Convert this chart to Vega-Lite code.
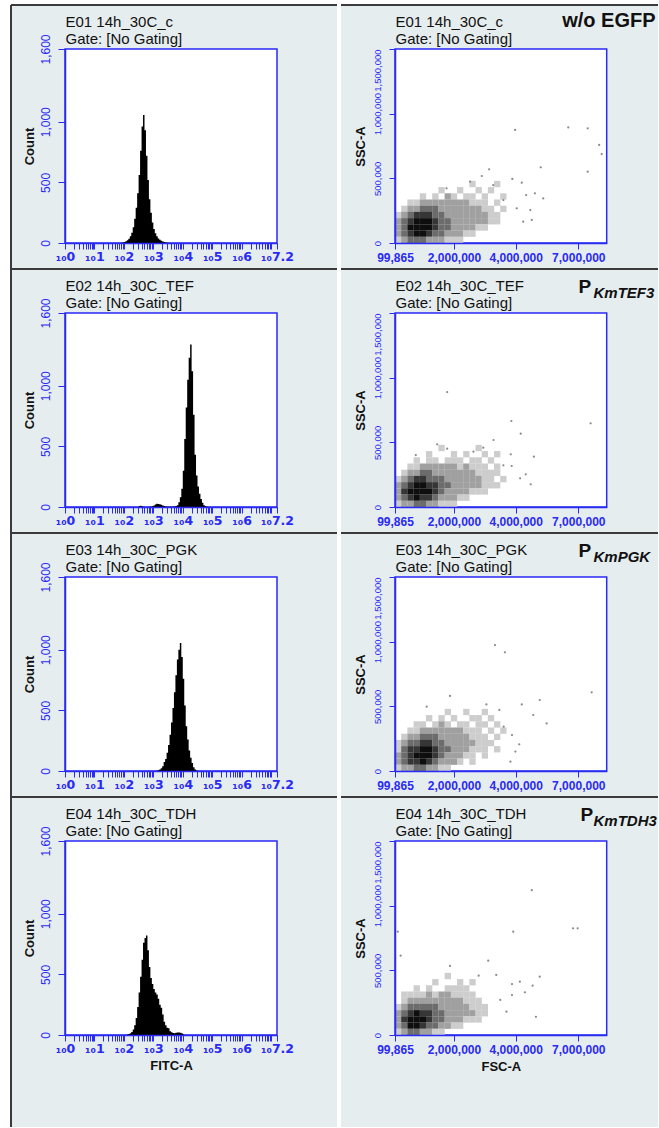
{
  "$schema": "https://vega.github.io/schema/vega-lite/v6.json",
  "background": "white",
  "padding": {"left": 10, "top": 4, "right": 0, "bottom": 0},
  "config": {
    "view": {"fill": "#e6edef", "stroke": null},
    "axis": {"grid": false, "domainColor": "#2a2af5", "tickColor": "#2a2af5", "labelColor": "#2a2af5", "titleColor": "#111111"}
  },
  "columns": 2,
  "spacing": {"row": 0, "column": 4},
  "bounds": "flush",
  "align": "each",
  "concat": [
    {
      "width": 326, "height": 264,
      "view": {"fill": "#e6edef", "stroke": "#3b3b3b", "strokeWidth": 2, "strokeDash": [326, 590, 264, 0]},
      "resolve": {"axis": {"x": "independent", "y": "independent"}},
      "layer": [
        {
          "data": {"values": [{}]},
          "mark": {"type": "rect", "fill": "white", "stroke": "#2a2af5", "strokeWidth": 1.5},
          "encoding": {
            "x": {"datum": 1, "type": "quantitative", "scale": {"type": "log", "domain": [1, 15848932], "range": [54, 266], "nice": false},
              "axis": {"orient": "top", "domain": false, "ticks": false, "labels": false, "title": ["E01 14h_30C_c", "Gate: [No Gating]"], "titleX": 54, "titleY": 9, "titleAlign": "left", "titleAnchor": "start", "titleBaseline": "top", "titleAngle": 0, "titleFont": "Liberation Sans", "titleFontSize": 15, "titleFontWeight": "normal", "titleLineHeight": 17.5}},
            "x2": {"datum": 15848932},
            "y": {"datum": 0, "type": "quantitative", "scale": {"domain": [0, 1600], "range": [238, 44], "nice": false, "zero": false}, "axis": null},
            "y2": {"datum": 1600}
          }
        },
        {
          "data": {"values": [
            {"fitc": 79.4, "count": 2}, {"fitc": 89.1, "count": 4}, {"fitc": 100, "count": 8}, {"fitc": 112.2, "count": 14},
            {"fitc": 125.9, "count": 22}, {"fitc": 141.3, "count": 35}, {"fitc": 158.5, "count": 55}, {"fitc": 177.8, "count": 85},
            {"fitc": 199.5, "count": 130}, {"fitc": 223.9, "count": 200}, {"fitc": 251.2, "count": 290}, {"fitc": 281.8, "count": 410},
            {"fitc": 316.2, "count": 560}, {"fitc": 354.8, "count": 760}, {"fitc": 398.1, "count": 960}, {"fitc": 446.7, "count": 1055},
            {"fitc": 501.2, "count": 930}, {"fitc": 562.3, "count": 720}, {"fitc": 631, "count": 520}, {"fitc": 707.9, "count": 360},
            {"fitc": 794.3, "count": 250}, {"fitc": 891.3, "count": 170}, {"fitc": 1000, "count": 115}, {"fitc": 1122, "count": 80},
            {"fitc": 1259, "count": 55}, {"fitc": 1413, "count": 38}, {"fitc": 1585, "count": 26}, {"fitc": 1778, "count": 18},
            {"fitc": 1995, "count": 12}, {"fitc": 2239, "count": 8}, {"fitc": 2512, "count": 5}, {"fitc": 2818, "count": 3},
            {"fitc": 3162, "count": 0}
          ]},
          "mark": {"type": "area", "interpolate": "step-after", "color": "#000000"},
          "encoding": {
            "x": {"field": "fitc", "type": "quantitative", "scale": {"type": "log", "domain": [1, 15848932], "range": [54, 266], "nice": false},
              "axis": {"orient": "bottom", "offset": -26, "zindex": 1, "values": [1,2,3,4,5,6,7,8,9,10,20,30,40,50,60,70,80,90,100,200,300,400,500,600,700,800,900,1000,2000,3000,4000,5000,6000,7000,8000,9000,10000,20000,30000,40000,50000,60000,70000,80000,90000,100000,200000,300000,400000,500000,600000,700000,800000,900000,1000000,2000000,3000000,4000000,5000000,6000000,7000000,8000000,9000000,10000000,15848932],
                "labelExpr": "datum.value > 15000000 ? '₁₀7.2' : datum.value > 5000000 ? '' : abs(log(datum.value) / LN10 - round(log(datum.value) / LN10)) < 0.001 ? '₁₀' + round(log(datum.value) / LN10) : ''",
                "labelFont": "DejaVu Sans", "labelFontSize": 12.5, "labelFontWeight": "bold", "labelPadding": 1, "labelOverlap": false, "labelBound": false, "labelFlush": false, "tickSize": 6, "domainWidth": 1.5, "title": null}},
            "y": {"field": "count", "type": "quantitative", "scale": {"domain": [0, 1600], "range": [238, 44], "nice": false, "zero": false},
              "axis": {"orient": "left", "offset": -54, "zindex": 1, "values": [0, 500, 1000, 1600], "format": ",.0f", "labelAngle": -90, "labelAlign": "center", "labelBaseline": "bottom", "labelFont": "Liberation Sans", "labelFontSize": 12, "labelPadding": 6, "labelOverlap": false, "labelBound": false, "labelFlush": false, "tickSize": 7, "domainWidth": 1.5, "title": "Count", "titleFont": "Liberation Sans", "titleFontSize": 13, "titleFontWeight": "bold", "titlePadding": 3}}
          }
        }
      ]
    },
    {
      "width": 317, "height": 264,
      "view": {"fill": "#e6edef", "stroke": "#3b3b3b", "strokeWidth": 2, "strokeDash": [317, 845]},
      "resolve": {"axis": {"x": "independent", "y": "independent"}},
      "layer": [
        {
          "data": {"values": [{}]},
          "mark": {"type": "rect", "fill": "white", "stroke": "#2a2af5", "strokeWidth": 1.5},
          "encoding": {
            "x": {"datum": 99865, "type": "quantitative", "scale": {"type": "linear", "domain": [99865, 2000000, 4000000, 7000000, 8360000], "range": [54, 113, 174.7, 237.3, 265.7], "nice": false, "zero": false},
              "axis": {"orient": "top", "domain": false, "ticks": false, "labels": false, "title": ["E01 14h_30C_c", "Gate: [No Gating]"], "titleX": 54, "titleY": 9, "titleAlign": "left", "titleAnchor": "start", "titleBaseline": "top", "titleAngle": 0, "titleFont": "Liberation Sans", "titleFontSize": 15, "titleFontWeight": "normal", "titleLineHeight": 17.5}},
            "x2": {"datum": 8360000},
            "y": {"datum": 0, "type": "quantitative", "scale": {"domain": [0, 1500000], "range": [238, 44], "nice": false, "zero": false}, "axis": null},
            "y2": {"datum": 1500000}
          }
        },
        {
          "data": {"values": [
            {"fsc": 2600000, "ssc": 456000, "level": 1}, {"fsc": 3400000, "ssc": 456000, "level": 1},
            {"fsc": 1600000, "ssc": 408000, "level": 1}, {"fsc": 2200000, "ssc": 408000, "level": 1}, {"fsc": 2800000, "ssc": 408000, "level": 1}, {"fsc": 3200000, "ssc": 408000, "level": 1},
            {"fsc": 1000000, "ssc": 360000, "level": 1}, {"fsc": 1400000, "ssc": 360000, "level": 1}, {"fsc": 1800000, "ssc": 360000, "level": 2}, {"fsc": 2000000, "ssc": 360000, "level": 1},
            {"fsc": 2400000, "ssc": 360000, "level": 1}, {"fsc": 2600000, "ssc": 360000, "level": 1}, {"fsc": 3000000, "ssc": 360000, "level": 1}, {"fsc": 3600000, "ssc": 360000, "level": 1},
            {"fsc": 600000, "ssc": 312000, "level": 1}, {"fsc": 800000, "ssc": 312000, "level": 1}, {"fsc": 1000000, "ssc": 312000, "level": 2}, {"fsc": 1200000, "ssc": 312000, "level": 2},
            {"fsc": 1400000, "ssc": 312000, "level": 2}, {"fsc": 1600000, "ssc": 312000, "level": 2}, {"fsc": 1800000, "ssc": 312000, "level": 2}, {"fsc": 2000000, "ssc": 312000, "level": 2},
            {"fsc": 2200000, "ssc": 312000, "level": 2}, {"fsc": 2400000, "ssc": 312000, "level": 2}, {"fsc": 2600000, "ssc": 312000, "level": 1}, {"fsc": 2800000, "ssc": 312000, "level": 1},
            {"fsc": 3000000, "ssc": 312000, "level": 1}, {"fsc": 3400000, "ssc": 312000, "level": 1},
            {"fsc": 400000, "ssc": 264000, "level": 1}, {"fsc": 600000, "ssc": 264000, "level": 2}, {"fsc": 800000, "ssc": 264000, "level": 2}, {"fsc": 1000000, "ssc": 264000, "level": 3},
            {"fsc": 1200000, "ssc": 264000, "level": 3}, {"fsc": 1400000, "ssc": 264000, "level": 3}, {"fsc": 1600000, "ssc": 264000, "level": 2}, {"fsc": 1800000, "ssc": 264000, "level": 2},
            {"fsc": 2000000, "ssc": 264000, "level": 2}, {"fsc": 2200000, "ssc": 264000, "level": 2}, {"fsc": 2400000, "ssc": 264000, "level": 2}, {"fsc": 2600000, "ssc": 264000, "level": 2},
            {"fsc": 2800000, "ssc": 264000, "level": 2}, {"fsc": 3000000, "ssc": 264000, "level": 1}, {"fsc": 3200000, "ssc": 264000, "level": 1}, {"fsc": 3600000, "ssc": 264000, "level": 1},
            {"fsc": 200000, "ssc": 216000, "level": 1}, {"fsc": 400000, "ssc": 216000, "level": 2}, {"fsc": 600000, "ssc": 216000, "level": 3}, {"fsc": 800000, "ssc": 216000, "level": 4},
            {"fsc": 1000000, "ssc": 216000, "level": 4}, {"fsc": 1200000, "ssc": 216000, "level": 4}, {"fsc": 1400000, "ssc": 216000, "level": 3}, {"fsc": 1600000, "ssc": 216000, "level": 3},
            {"fsc": 1800000, "ssc": 216000, "level": 2}, {"fsc": 2000000, "ssc": 216000, "level": 2}, {"fsc": 2200000, "ssc": 216000, "level": 2}, {"fsc": 2400000, "ssc": 216000, "level": 2},
            {"fsc": 2600000, "ssc": 216000, "level": 2}, {"fsc": 2800000, "ssc": 216000, "level": 2}, {"fsc": 3000000, "ssc": 216000, "level": 2}, {"fsc": 3200000, "ssc": 216000, "level": 1},
            {"fsc": 3400000, "ssc": 216000, "level": 1},
            {"fsc": 200000, "ssc": 168000, "level": 2}, {"fsc": 400000, "ssc": 168000, "level": 3}, {"fsc": 600000, "ssc": 168000, "level": 4}, {"fsc": 800000, "ssc": 168000, "level": 5},
            {"fsc": 1000000, "ssc": 168000, "level": 5}, {"fsc": 1200000, "ssc": 168000, "level": 5}, {"fsc": 1400000, "ssc": 168000, "level": 4}, {"fsc": 1600000, "ssc": 168000, "level": 3},
            {"fsc": 1800000, "ssc": 168000, "level": 3}, {"fsc": 2000000, "ssc": 168000, "level": 2}, {"fsc": 2200000, "ssc": 168000, "level": 2}, {"fsc": 2400000, "ssc": 168000, "level": 2},
            {"fsc": 2600000, "ssc": 168000, "level": 2}, {"fsc": 2800000, "ssc": 168000, "level": 2}, {"fsc": 3000000, "ssc": 168000, "level": 2}, {"fsc": 3200000, "ssc": 168000, "level": 1},
            {"fsc": 3400000, "ssc": 168000, "level": 1},
            {"fsc": 200000, "ssc": 120000, "level": 2}, {"fsc": 400000, "ssc": 120000, "level": 3}, {"fsc": 600000, "ssc": 120000, "level": 5}, {"fsc": 800000, "ssc": 120000, "level": 5},
            {"fsc": 1000000, "ssc": 120000, "level": 5}, {"fsc": 1200000, "ssc": 120000, "level": 5}, {"fsc": 1400000, "ssc": 120000, "level": 4}, {"fsc": 1600000, "ssc": 120000, "level": 3},
            {"fsc": 1800000, "ssc": 120000, "level": 3}, {"fsc": 2000000, "ssc": 120000, "level": 2}, {"fsc": 2200000, "ssc": 120000, "level": 2}, {"fsc": 2400000, "ssc": 120000, "level": 2},
            {"fsc": 2600000, "ssc": 120000, "level": 2}, {"fsc": 2800000, "ssc": 120000, "level": 1}, {"fsc": 3000000, "ssc": 120000, "level": 1},
            {"fsc": 200000, "ssc": 72000, "level": 2}, {"fsc": 400000, "ssc": 72000, "level": 3}, {"fsc": 600000, "ssc": 72000, "level": 4}, {"fsc": 800000, "ssc": 72000, "level": 5},
            {"fsc": 1000000, "ssc": 72000, "level": 5}, {"fsc": 1200000, "ssc": 72000, "level": 4}, {"fsc": 1400000, "ssc": 72000, "level": 3}, {"fsc": 1600000, "ssc": 72000, "level": 3},
            {"fsc": 1800000, "ssc": 72000, "level": 2}, {"fsc": 2000000, "ssc": 72000, "level": 2}, {"fsc": 2200000, "ssc": 72000, "level": 2}, {"fsc": 2400000, "ssc": 72000, "level": 1},
            {"fsc": 2600000, "ssc": 72000, "level": 1},
            {"fsc": 200000, "ssc": 24000, "level": 1}, {"fsc": 400000, "ssc": 24000, "level": 2}, {"fsc": 600000, "ssc": 24000, "level": 3}, {"fsc": 800000, "ssc": 24000, "level": 3},
            {"fsc": 1000000, "ssc": 24000, "level": 3}, {"fsc": 1200000, "ssc": 24000, "level": 2}, {"fsc": 1400000, "ssc": 24000, "level": 2}, {"fsc": 1600000, "ssc": 24000, "level": 2},
            {"fsc": 1800000, "ssc": 24000, "level": 1}, {"fsc": 2000000, "ssc": 24000, "level": 1}, {"fsc": 2200000, "ssc": 24000, "level": 1}
          ]},
          "mark": {"type": "point", "shape": "square", "filled": true, "size": 40, "opacity": 1, "strokeWidth": 0},
          "encoding": {
            "x": {"field": "fsc", "type": "quantitative", "scale": {"type": "linear", "domain": [99865, 2000000, 4000000, 7000000, 8360000], "range": [54, 113, 174.7, 237.3, 265.7], "nice": false, "zero": false},
              "axis": {"orient": "bottom", "offset": -26, "zindex": 1, "values": [99865, 2000000, 4000000, 7000000], "format": ",.0f", "labelFont": "Liberation Sans", "labelFontSize": 12, "labelFontWeight": "bold", "labelPadding": 3, "labelOverlap": false, "labelBound": false, "labelFlush": false, "tickSize": 6, "domainWidth": 1.5, "title": null}},
            "y": {"field": "ssc", "type": "quantitative", "scale": {"domain": [0, 1500000], "range": [238, 44], "nice": false, "zero": false},
              "axis": {"orient": "left", "offset": -54, "zindex": 1, "values": [0, 500000, 1000000, 1500000], "format": ",.0f", "labelAngle": -90, "labelAlign": {"condition": {"test": "datum.value == 1500000", "value": "right"}, "value": "center"}, "labelBaseline": "bottom", "labelFont": "Liberation Sans", "labelFontSize": 9.5, "labelPadding": 6.5, "labelOverlap": false, "labelBound": false, "labelFlush": false, "tickSize": 6, "domainWidth": 1.5, "title": "SSC-A", "titleFont": "Liberation Sans", "titleFontSize": 13, "titleFontWeight": "bold", "titlePadding": 5}},
            "color": {"field": "level", "type": "ordinal", "scale": {"domain": [1, 2, 3, 4, 5], "range": ["#cdcdcd", "#a0a0a0", "#6c6c6c", "#363636", "#0e0e0e"]}, "legend": null}
          }
        },
        {
          "data": {"values": [
            {"fsc": 3980000, "ssc": 874000}, {"fsc": 6520000, "ssc": 894000}, {"fsc": 7450000, "ssc": 887000}, {"fsc": 8000000, "ssc": 758000},
            {"fsc": 8120000, "ssc": 688000}, {"fsc": 7450000, "ssc": 551000}, {"fsc": 5200000, "ssc": 585000}, {"fsc": 3140000, "ssc": 570000},
            {"fsc": 3890000, "ssc": 495000}, {"fsc": 4290000, "ssc": 466000}, {"fsc": 4500000, "ssc": 371000}, {"fsc": 4920000, "ssc": 384000},
            {"fsc": 5320000, "ssc": 345000}, {"fsc": 4770000, "ssc": 178000}, {"fsc": 3600000, "ssc": 332000}, {"fsc": 4050000, "ssc": 268000},
            {"fsc": 3270000, "ssc": 448000}, {"fsc": 2900000, "ssc": 518000}, {"fsc": 2520000, "ssc": 474000}, {"fsc": 1760000, "ssc": 423000},
            {"fsc": 4700000, "ssc": 255000}, {"fsc": 4360000, "ssc": 165000}
          ]},
          "mark": {"type": "point", "shape": "circle", "filled": true, "size": 5, "color": "#8a8a8a", "opacity": 1},
          "encoding": {
            "x": {"field": "fsc", "type": "quantitative", "scale": {"type": "linear", "domain": [99865, 2000000, 4000000, 7000000, 8360000], "range": [54, 113, 174.7, 237.3, 265.7], "nice": false, "zero": false},
              "axis": {"orient": "top", "domain": false, "ticks": false, "labels": false, "title": "w/o EGFP", "titleX": 314, "titleY": 21, "titleAlign": "right", "titleBaseline": "alphabetic", "titleAngle": 0, "titleFont": "Liberation Sans", "titleFontSize": 20, "titleFontWeight": "bold"}},
            "y": {"field": "ssc", "type": "quantitative", "scale": {"domain": [0, 1500000], "range": [238, 44], "nice": false, "zero": false}, "axis": null}
          }
        }
      ]
    },
    {
      "width": 326, "height": 264,
      "view": {"fill": "#e6edef", "stroke": "#3b3b3b", "strokeWidth": 2, "strokeDash": [326, 590, 264, 0]},
      "resolve": {"axis": {"x": "independent", "y": "independent"}},
      "layer": [
        {
          "data": {"values": [{}]},
          "mark": {"type": "rect", "fill": "white", "stroke": "#2a2af5", "strokeWidth": 1.5},
          "encoding": {
            "x": {"datum": 1, "type": "quantitative", "scale": {"type": "log", "domain": [1, 15848932], "range": [54, 266], "nice": false},
              "axis": {"orient": "top", "domain": false, "ticks": false, "labels": false, "title": ["E02 14h_30C_TEF", "Gate: [No Gating]"], "titleX": 54, "titleY": 9, "titleAlign": "left", "titleAnchor": "start", "titleBaseline": "top", "titleAngle": 0, "titleFont": "Liberation Sans", "titleFontSize": 15, "titleFontWeight": "normal", "titleLineHeight": 17.5}},
            "x2": {"datum": 15848932},
            "y": {"datum": 0, "type": "quantitative", "scale": {"domain": [0, 1600], "range": [238, 44], "nice": false, "zero": false}, "axis": null},
            "y2": {"datum": 1600}
          }
        },
        {
          "data": {"values": [
            {"fitc": 281.8, "count": 0}, {"fitc": 316.2, "count": 6}, {"fitc": 354.8, "count": 10}, {"fitc": 398.1, "count": 5},
            {"fitc": 446.7, "count": 2}, {"fitc": 501.2, "count": 1}, {"fitc": 562.3, "count": 1}, {"fitc": 631, "count": 1},
            {"fitc": 707.9, "count": 2}, {"fitc": 794.3, "count": 3}, {"fitc": 891.3, "count": 6}, {"fitc": 1000, "count": 12},
            {"fitc": 1122, "count": 20}, {"fitc": 1259, "count": 26}, {"fitc": 1413, "count": 24}, {"fitc": 1585, "count": 22},
            {"fitc": 1778, "count": 18}, {"fitc": 1995, "count": 12}, {"fitc": 2239, "count": 8}, {"fitc": 2512, "count": 5},
            {"fitc": 2818, "count": 3}, {"fitc": 3162, "count": 2}, {"fitc": 3548, "count": 2}, {"fitc": 3981, "count": 2},
            {"fitc": 4467, "count": 3}, {"fitc": 5012, "count": 4}, {"fitc": 5623, "count": 8}, {"fitc": 6310, "count": 15},
            {"fitc": 7079, "count": 40}, {"fitc": 7943, "count": 80}, {"fitc": 8913, "count": 150}, {"fitc": 10000, "count": 300},
            {"fitc": 11220, "count": 560}, {"fitc": 12589, "count": 820}, {"fitc": 14125, "count": 1050}, {"fitc": 15849, "count": 1230},
            {"fitc": 17783, "count": 1340}, {"fitc": 19953, "count": 1120}, {"fitc": 22387, "count": 760}, {"fitc": 25119, "count": 430},
            {"fitc": 28184, "count": 260}, {"fitc": 31623, "count": 170}, {"fitc": 35481, "count": 110}, {"fitc": 39811, "count": 65},
            {"fitc": 44668, "count": 35}, {"fitc": 50119, "count": 15}, {"fitc": 56234, "count": 6}, {"fitc": 63096, "count": 2},
            {"fitc": 70795, "count": 0}
          ]},
          "mark": {"type": "area", "interpolate": "step-after", "color": "#000000"},
          "encoding": {
            "x": {"field": "fitc", "type": "quantitative", "scale": {"type": "log", "domain": [1, 15848932], "range": [54, 266], "nice": false},
              "axis": {"orient": "bottom", "offset": -26, "zindex": 1, "values": [1,2,3,4,5,6,7,8,9,10,20,30,40,50,60,70,80,90,100,200,300,400,500,600,700,800,900,1000,2000,3000,4000,5000,6000,7000,8000,9000,10000,20000,30000,40000,50000,60000,70000,80000,90000,100000,200000,300000,400000,500000,600000,700000,800000,900000,1000000,2000000,3000000,4000000,5000000,6000000,7000000,8000000,9000000,10000000,15848932],
                "labelExpr": "datum.value > 15000000 ? '₁₀7.2' : datum.value > 5000000 ? '' : abs(log(datum.value) / LN10 - round(log(datum.value) / LN10)) < 0.001 ? '₁₀' + round(log(datum.value) / LN10) : ''",
                "labelFont": "DejaVu Sans", "labelFontSize": 12.5, "labelFontWeight": "bold", "labelPadding": 1, "labelOverlap": false, "labelBound": false, "labelFlush": false, "tickSize": 6, "domainWidth": 1.5, "title": null}},
            "y": {"field": "count", "type": "quantitative", "scale": {"domain": [0, 1600], "range": [238, 44], "nice": false, "zero": false},
              "axis": {"orient": "left", "offset": -54, "zindex": 1, "values": [0, 500, 1000, 1600], "format": ",.0f", "labelAngle": -90, "labelAlign": "center", "labelBaseline": "bottom", "labelFont": "Liberation Sans", "labelFontSize": 12, "labelPadding": 6, "labelOverlap": false, "labelBound": false, "labelFlush": false, "tickSize": 7, "domainWidth": 1.5, "title": "Count", "titleFont": "Liberation Sans", "titleFontSize": 13, "titleFontWeight": "bold", "titlePadding": 3}}
          }
        }
      ]
    },
    {
      "width": 317, "height": 264,
      "view": {"fill": "#e6edef", "stroke": "#3b3b3b", "strokeWidth": 2, "strokeDash": [317, 845]},
      "resolve": {"axis": {"x": "independent", "y": "independent"}},
      "layer": [
        {
          "data": {"values": [{}]},
          "mark": {"type": "rect", "fill": "white", "stroke": "#2a2af5", "strokeWidth": 1.5},
          "encoding": {
            "x": {"datum": 99865, "type": "quantitative", "scale": {"type": "linear", "domain": [99865, 2000000, 4000000, 7000000, 8360000], "range": [54, 113, 174.7, 237.3, 265.7], "nice": false, "zero": false},
              "axis": {"orient": "top", "domain": false, "ticks": false, "labels": false, "title": ["E02 14h_30C_TEF", "Gate: [No Gating]"], "titleX": 54, "titleY": 9, "titleAlign": "left", "titleAnchor": "start", "titleBaseline": "top", "titleAngle": 0, "titleFont": "Liberation Sans", "titleFontSize": 15, "titleFontWeight": "normal", "titleLineHeight": 17.5}},
            "x2": {"datum": 8360000},
            "y": {"datum": 0, "type": "quantitative", "scale": {"domain": [0, 1500000], "range": [238, 44], "nice": false, "zero": false},
              "axis": {"orient": "right", "offset": 0, "domain": false, "ticks": false, "labels": false, "title": "KmTEF3", "titleX": -65, "titleY": 28.5, "titleAlign": "left", "titleBaseline": "alphabetic", "titleAngle": 0, "titleFont": "Liberation Sans", "titleFontSize": 15, "titleFontWeight": "bold", "titleFontStyle": "italic"}},
            "y2": {"datum": 1500000}
          }
        },
        {
          "data": {"values": [
            {"fsc": 1600000, "ssc": 456000, "level": 1}, {"fsc": 2800000, "ssc": 456000, "level": 1},
            {"fsc": 1200000, "ssc": 408000, "level": 1}, {"fsc": 2000000, "ssc": 408000, "level": 1}, {"fsc": 2400000, "ssc": 408000, "level": 1}, {"fsc": 3000000, "ssc": 408000, "level": 1}, {"fsc": 3400000, "ssc": 408000, "level": 1},
            {"fsc": 800000, "ssc": 360000, "level": 1}, {"fsc": 1200000, "ssc": 360000, "level": 1}, {"fsc": 1400000, "ssc": 360000, "level": 1}, {"fsc": 1800000, "ssc": 360000, "level": 1},
            {"fsc": 2000000, "ssc": 360000, "level": 1}, {"fsc": 2200000, "ssc": 360000, "level": 1}, {"fsc": 2600000, "ssc": 360000, "level": 1}, {"fsc": 2800000, "ssc": 360000, "level": 1}, {"fsc": 3200000, "ssc": 360000, "level": 1},
            {"fsc": 600000, "ssc": 312000, "level": 1}, {"fsc": 800000, "ssc": 312000, "level": 1}, {"fsc": 1000000, "ssc": 312000, "level": 2}, {"fsc": 1200000, "ssc": 312000, "level": 2},
            {"fsc": 1400000, "ssc": 312000, "level": 2}, {"fsc": 1600000, "ssc": 312000, "level": 2}, {"fsc": 1800000, "ssc": 312000, "level": 2}, {"fsc": 2000000, "ssc": 312000, "level": 2},
            {"fsc": 2200000, "ssc": 312000, "level": 1}, {"fsc": 2400000, "ssc": 312000, "level": 2}, {"fsc": 2600000, "ssc": 312000, "level": 1}, {"fsc": 2800000, "ssc": 312000, "level": 1},
            {"fsc": 3000000, "ssc": 312000, "level": 1}, {"fsc": 3400000, "ssc": 312000, "level": 1},
            {"fsc": 400000, "ssc": 264000, "level": 1}, {"fsc": 600000, "ssc": 264000, "level": 2}, {"fsc": 800000, "ssc": 264000, "level": 2}, {"fsc": 1000000, "ssc": 264000, "level": 3},
            {"fsc": 1200000, "ssc": 264000, "level": 3}, {"fsc": 1400000, "ssc": 264000, "level": 2}, {"fsc": 1600000, "ssc": 264000, "level": 2}, {"fsc": 1800000, "ssc": 264000, "level": 2},
            {"fsc": 2000000, "ssc": 264000, "level": 2}, {"fsc": 2200000, "ssc": 264000, "level": 2}, {"fsc": 2400000, "ssc": 264000, "level": 2}, {"fsc": 2600000, "ssc": 264000, "level": 2},
            {"fsc": 2800000, "ssc": 264000, "level": 1}, {"fsc": 3000000, "ssc": 264000, "level": 1}, {"fsc": 3200000, "ssc": 264000, "level": 1}, {"fsc": 3400000, "ssc": 264000, "level": 1},
            {"fsc": 200000, "ssc": 216000, "level": 1}, {"fsc": 400000, "ssc": 216000, "level": 2}, {"fsc": 600000, "ssc": 216000, "level": 3}, {"fsc": 800000, "ssc": 216000, "level": 4},
            {"fsc": 1000000, "ssc": 216000, "level": 4}, {"fsc": 1200000, "ssc": 216000, "level": 3}, {"fsc": 1400000, "ssc": 216000, "level": 3}, {"fsc": 1600000, "ssc": 216000, "level": 3},
            {"fsc": 1800000, "ssc": 216000, "level": 2}, {"fsc": 2000000, "ssc": 216000, "level": 2}, {"fsc": 2200000, "ssc": 216000, "level": 2}, {"fsc": 2400000, "ssc": 216000, "level": 2},
            {"fsc": 2600000, "ssc": 216000, "level": 2}, {"fsc": 2800000, "ssc": 216000, "level": 2}, {"fsc": 3000000, "ssc": 216000, "level": 1}, {"fsc": 3200000, "ssc": 216000, "level": 1},
            {"fsc": 3600000, "ssc": 216000, "level": 1},
            {"fsc": 200000, "ssc": 168000, "level": 2}, {"fsc": 400000, "ssc": 168000, "level": 3}, {"fsc": 600000, "ssc": 168000, "level": 4}, {"fsc": 800000, "ssc": 168000, "level": 5},
            {"fsc": 1000000, "ssc": 168000, "level": 5}, {"fsc": 1200000, "ssc": 168000, "level": 4}, {"fsc": 1400000, "ssc": 168000, "level": 4}, {"fsc": 1600000, "ssc": 168000, "level": 3},
            {"fsc": 1800000, "ssc": 168000, "level": 3}, {"fsc": 2000000, "ssc": 168000, "level": 2}, {"fsc": 2200000, "ssc": 168000, "level": 2}, {"fsc": 2400000, "ssc": 168000, "level": 2},
            {"fsc": 2600000, "ssc": 168000, "level": 2}, {"fsc": 2800000, "ssc": 168000, "level": 2}, {"fsc": 3000000, "ssc": 168000, "level": 1}, {"fsc": 3200000, "ssc": 168000, "level": 1},
            {"fsc": 3400000, "ssc": 168000, "level": 1},
            {"fsc": 200000, "ssc": 120000, "level": 2}, {"fsc": 400000, "ssc": 120000, "level": 4}, {"fsc": 600000, "ssc": 120000, "level": 5}, {"fsc": 800000, "ssc": 120000, "level": 5},
            {"fsc": 1000000, "ssc": 120000, "level": 5}, {"fsc": 1200000, "ssc": 120000, "level": 5}, {"fsc": 1400000, "ssc": 120000, "level": 4}, {"fsc": 1600000, "ssc": 120000, "level": 3},
            {"fsc": 1800000, "ssc": 120000, "level": 2}, {"fsc": 2000000, "ssc": 120000, "level": 2}, {"fsc": 2200000, "ssc": 120000, "level": 2}, {"fsc": 2400000, "ssc": 120000, "level": 2},
            {"fsc": 2600000, "ssc": 120000, "level": 1}, {"fsc": 2800000, "ssc": 120000, "level": 1}, {"fsc": 3000000, "ssc": 120000, "level": 1},
            {"fsc": 200000, "ssc": 72000, "level": 2}, {"fsc": 400000, "ssc": 72000, "level": 3}, {"fsc": 600000, "ssc": 72000, "level": 4}, {"fsc": 800000, "ssc": 72000, "level": 5},
            {"fsc": 1000000, "ssc": 72000, "level": 4}, {"fsc": 1200000, "ssc": 72000, "level": 4}, {"fsc": 1400000, "ssc": 72000, "level": 3}, {"fsc": 1600000, "ssc": 72000, "level": 2},
            {"fsc": 1800000, "ssc": 72000, "level": 2}, {"fsc": 2000000, "ssc": 72000, "level": 2}, {"fsc": 2200000, "ssc": 72000, "level": 1}, {"fsc": 2400000, "ssc": 72000, "level": 1},
            {"fsc": 200000, "ssc": 24000, "level": 1}, {"fsc": 400000, "ssc": 24000, "level": 2}, {"fsc": 600000, "ssc": 24000, "level": 2}, {"fsc": 800000, "ssc": 24000, "level": 3},
            {"fsc": 1000000, "ssc": 24000, "level": 3}, {"fsc": 1200000, "ssc": 24000, "level": 2}, {"fsc": 1400000, "ssc": 24000, "level": 2}, {"fsc": 1600000, "ssc": 24000, "level": 1},
            {"fsc": 1800000, "ssc": 24000, "level": 1}, {"fsc": 2000000, "ssc": 24000, "level": 1}
          ]},
          "mark": {"type": "point", "shape": "square", "filled": true, "size": 40, "opacity": 1, "strokeWidth": 0},
          "encoding": {
            "x": {"field": "fsc", "type": "quantitative", "scale": {"type": "linear", "domain": [99865, 2000000, 4000000, 7000000, 8360000], "range": [54, 113, 174.7, 237.3, 265.7], "nice": false, "zero": false},
              "axis": {"orient": "bottom", "offset": -26, "zindex": 1, "values": [99865, 2000000, 4000000, 7000000], "format": ",.0f", "labelFont": "Liberation Sans", "labelFontSize": 12, "labelFontWeight": "bold", "labelPadding": 3, "labelOverlap": false, "labelBound": false, "labelFlush": false, "tickSize": 6, "domainWidth": 1.5, "title": null}},
            "y": {"field": "ssc", "type": "quantitative", "scale": {"domain": [0, 1500000], "range": [238, 44], "nice": false, "zero": false},
              "axis": {"orient": "left", "offset": -54, "zindex": 1, "values": [0, 500000, 1000000, 1500000], "format": ",.0f", "labelAngle": -90, "labelAlign": {"condition": {"test": "datum.value == 1500000", "value": "right"}, "value": "center"}, "labelBaseline": "bottom", "labelFont": "Liberation Sans", "labelFontSize": 9.5, "labelPadding": 6.5, "labelOverlap": false, "labelBound": false, "labelFlush": false, "tickSize": 6, "domainWidth": 1.5, "title": "SSC-A", "titleFont": "Liberation Sans", "titleFontSize": 13, "titleFontWeight": "bold", "titlePadding": 5}},
            "color": {"field": "level", "type": "ordinal", "scale": {"domain": [1, 2, 3, 4, 5], "range": ["#cdcdcd", "#a0a0a0", "#6c6c6c", "#363636", "#0e0e0e"]}, "legend": null}
          }
        },
        {
          "data": {"values": [
            {"fsc": 1780000, "ssc": 889000}, {"fsc": 3860000, "ssc": 665000}, {"fsc": 4240000, "ssc": 567000}, {"fsc": 3280000, "ssc": 518000},
            {"fsc": 2950000, "ssc": 459000}, {"fsc": 2630000, "ssc": 428000}, {"fsc": 7590000, "ssc": 647000}, {"fsc": 4870000, "ssc": 389000},
            {"fsc": 4480000, "ssc": 253000}, {"fsc": 4720000, "ssc": 175000}, {"fsc": 4210000, "ssc": 222000}, {"fsc": 3840000, "ssc": 407000},
            {"fsc": 1460000, "ssc": 485000}, {"fsc": 1780000, "ssc": 451000}, {"fsc": 770000, "ssc": 402000}, {"fsc": 3600000, "ssc": 322000},
            {"fsc": 3870000, "ssc": 317000}
          ]},
          "mark": {"type": "point", "shape": "circle", "filled": true, "size": 5, "color": "#8a8a8a", "opacity": 1},
          "encoding": {
            "x": {"field": "fsc", "type": "quantitative", "scale": {"type": "linear", "domain": [99865, 2000000, 4000000, 7000000, 8360000], "range": [54, 113, 174.7, 237.3, 265.7], "nice": false, "zero": false},
              "axis": {"orient": "top", "domain": false, "ticks": false, "labels": false, "title": "P", "titleX": 237, "titleY": 23, "titleAlign": "left", "titleBaseline": "alphabetic", "titleAngle": 0, "titleFont": "Liberation Sans", "titleFontSize": 19, "titleFontWeight": "bold"}},
            "y": {"field": "ssc", "type": "quantitative", "scale": {"domain": [0, 1500000], "range": [238, 44], "nice": false, "zero": false}, "axis": null}
          }
        }
      ]
    },
    {
      "width": 326, "height": 264,
      "view": {"fill": "#e6edef", "stroke": "#3b3b3b", "strokeWidth": 2, "strokeDash": [326, 590, 264, 0]},
      "resolve": {"axis": {"x": "independent", "y": "independent"}},
      "layer": [
        {
          "data": {"values": [{}]},
          "mark": {"type": "rect", "fill": "white", "stroke": "#2a2af5", "strokeWidth": 1.5},
          "encoding": {
            "x": {"datum": 1, "type": "quantitative", "scale": {"type": "log", "domain": [1, 15848932], "range": [54, 266], "nice": false},
              "axis": {"orient": "top", "domain": false, "ticks": false, "labels": false, "title": ["E03 14h_30C_PGK", "Gate: [No Gating]"], "titleX": 54, "titleY": 9, "titleAlign": "left", "titleAnchor": "start", "titleBaseline": "top", "titleAngle": 0, "titleFont": "Liberation Sans", "titleFontSize": 15, "titleFontWeight": "normal", "titleLineHeight": 17.5}},
            "x2": {"datum": 15848932},
            "y": {"datum": 0, "type": "quantitative", "scale": {"domain": [0, 1600], "range": [238, 44], "nice": false, "zero": false}, "axis": null},
            "y2": {"datum": 1600}
          }
        },
        {
          "data": {"values": [
            {"fitc": 1122, "count": 0}, {"fitc": 1259, "count": 3}, {"fitc": 1413, "count": 6}, {"fitc": 1585, "count": 12},
            {"fitc": 1778, "count": 22}, {"fitc": 1995, "count": 40}, {"fitc": 2239, "count": 75}, {"fitc": 2512, "count": 100},
            {"fitc": 2818, "count": 150}, {"fitc": 3162, "count": 215}, {"fitc": 3548, "count": 300}, {"fitc": 3981, "count": 400},
            {"fitc": 4467, "count": 520}, {"fitc": 5012, "count": 650}, {"fitc": 5623, "count": 790}, {"fitc": 6310, "count": 920},
            {"fitc": 7079, "count": 1000}, {"fitc": 7943, "count": 1055}, {"fitc": 8913, "count": 940}, {"fitc": 10000, "count": 760},
            {"fitc": 11220, "count": 540}, {"fitc": 12589, "count": 370}, {"fitc": 14125, "count": 260}, {"fitc": 15849, "count": 170},
            {"fitc": 17783, "count": 110}, {"fitc": 19953, "count": 65}, {"fitc": 22387, "count": 30}, {"fitc": 25119, "count": 12},
            {"fitc": 28184, "count": 4}, {"fitc": 31623, "count": 0}
          ]},
          "mark": {"type": "area", "interpolate": "step-after", "color": "#000000"},
          "encoding": {
            "x": {"field": "fitc", "type": "quantitative", "scale": {"type": "log", "domain": [1, 15848932], "range": [54, 266], "nice": false},
              "axis": {"orient": "bottom", "offset": -26, "zindex": 1, "values": [1,2,3,4,5,6,7,8,9,10,20,30,40,50,60,70,80,90,100,200,300,400,500,600,700,800,900,1000,2000,3000,4000,5000,6000,7000,8000,9000,10000,20000,30000,40000,50000,60000,70000,80000,90000,100000,200000,300000,400000,500000,600000,700000,800000,900000,1000000,2000000,3000000,4000000,5000000,6000000,7000000,8000000,9000000,10000000,15848932],
                "labelExpr": "datum.value > 15000000 ? '₁₀7.2' : datum.value > 5000000 ? '' : abs(log(datum.value) / LN10 - round(log(datum.value) / LN10)) < 0.001 ? '₁₀' + round(log(datum.value) / LN10) : ''",
                "labelFont": "DejaVu Sans", "labelFontSize": 12.5, "labelFontWeight": "bold", "labelPadding": 1, "labelOverlap": false, "labelBound": false, "labelFlush": false, "tickSize": 6, "domainWidth": 1.5, "title": null}},
            "y": {"field": "count", "type": "quantitative", "scale": {"domain": [0, 1600], "range": [238, 44], "nice": false, "zero": false},
              "axis": {"orient": "left", "offset": -54, "zindex": 1, "values": [0, 500, 1000, 1600], "format": ",.0f", "labelAngle": -90, "labelAlign": "center", "labelBaseline": "bottom", "labelFont": "Liberation Sans", "labelFontSize": 12, "labelPadding": 6, "labelOverlap": false, "labelBound": false, "labelFlush": false, "tickSize": 7, "domainWidth": 1.5, "title": "Count", "titleFont": "Liberation Sans", "titleFontSize": 13, "titleFontWeight": "bold", "titlePadding": 3}}
          }
        }
      ]
    },
    {
      "width": 317, "height": 264,
      "view": {"fill": "#e6edef", "stroke": "#3b3b3b", "strokeWidth": 2, "strokeDash": [317, 845]},
      "resolve": {"axis": {"x": "independent", "y": "independent"}},
      "layer": [
        {
          "data": {"values": [{}]},
          "mark": {"type": "rect", "fill": "white", "stroke": "#2a2af5", "strokeWidth": 1.5},
          "encoding": {
            "x": {"datum": 99865, "type": "quantitative", "scale": {"type": "linear", "domain": [99865, 2000000, 4000000, 7000000, 8360000], "range": [54, 113, 174.7, 237.3, 265.7], "nice": false, "zero": false},
              "axis": {"orient": "top", "domain": false, "ticks": false, "labels": false, "title": ["E03 14h_30C_PGK", "Gate: [No Gating]"], "titleX": 54, "titleY": 9, "titleAlign": "left", "titleAnchor": "start", "titleBaseline": "top", "titleAngle": 0, "titleFont": "Liberation Sans", "titleFontSize": 15, "titleFontWeight": "normal", "titleLineHeight": 17.5}},
            "x2": {"datum": 8360000},
            "y": {"datum": 0, "type": "quantitative", "scale": {"domain": [0, 1500000], "range": [238, 44], "nice": false, "zero": false},
              "axis": {"orient": "right", "offset": 0, "domain": false, "ticks": false, "labels": false, "title": "KmPGK", "titleX": -65, "titleY": 28.5, "titleAlign": "left", "titleBaseline": "alphabetic", "titleAngle": 0, "titleFont": "Liberation Sans", "titleFontSize": 15, "titleFontWeight": "bold", "titleFontStyle": "italic"}},
            "y2": {"datum": 1500000}
          }
        },
        {
          "data": {"values": [
            {"fsc": 1800000, "ssc": 456000, "level": 1}, {"fsc": 2400000, "ssc": 456000, "level": 1}, {"fsc": 3000000, "ssc": 456000, "level": 1},
            {"fsc": 1200000, "ssc": 408000, "level": 1}, {"fsc": 1600000, "ssc": 408000, "level": 1}, {"fsc": 2000000, "ssc": 408000, "level": 1}, {"fsc": 2600000, "ssc": 408000, "level": 1}, {"fsc": 2800000, "ssc": 408000, "level": 1}, {"fsc": 3200000, "ssc": 408000, "level": 1},
            {"fsc": 800000, "ssc": 360000, "level": 1}, {"fsc": 1000000, "ssc": 360000, "level": 1}, {"fsc": 1400000, "ssc": 360000, "level": 1}, {"fsc": 1600000, "ssc": 360000, "level": 2},
            {"fsc": 1800000, "ssc": 360000, "level": 1}, {"fsc": 2200000, "ssc": 360000, "level": 1}, {"fsc": 2400000, "ssc": 360000, "level": 1}, {"fsc": 2800000, "ssc": 360000, "level": 1},
            {"fsc": 3000000, "ssc": 360000, "level": 1}, {"fsc": 3400000, "ssc": 360000, "level": 1},
            {"fsc": 600000, "ssc": 312000, "level": 1}, {"fsc": 800000, "ssc": 312000, "level": 1}, {"fsc": 1000000, "ssc": 312000, "level": 2}, {"fsc": 1200000, "ssc": 312000, "level": 2},
            {"fsc": 1400000, "ssc": 312000, "level": 2}, {"fsc": 1600000, "ssc": 312000, "level": 2}, {"fsc": 1800000, "ssc": 312000, "level": 2}, {"fsc": 2000000, "ssc": 312000, "level": 2},
            {"fsc": 2200000, "ssc": 312000, "level": 2}, {"fsc": 2400000, "ssc": 312000, "level": 1}, {"fsc": 2600000, "ssc": 312000, "level": 1}, {"fsc": 2800000, "ssc": 312000, "level": 1},
            {"fsc": 3200000, "ssc": 312000, "level": 1}, {"fsc": 3600000, "ssc": 312000, "level": 1},
            {"fsc": 400000, "ssc": 264000, "level": 1}, {"fsc": 600000, "ssc": 264000, "level": 2}, {"fsc": 800000, "ssc": 264000, "level": 2}, {"fsc": 1000000, "ssc": 264000, "level": 3},
            {"fsc": 1200000, "ssc": 264000, "level": 3}, {"fsc": 1400000, "ssc": 264000, "level": 3}, {"fsc": 1600000, "ssc": 264000, "level": 2}, {"fsc": 1800000, "ssc": 264000, "level": 2},
            {"fsc": 2000000, "ssc": 264000, "level": 2}, {"fsc": 2200000, "ssc": 264000, "level": 2}, {"fsc": 2400000, "ssc": 264000, "level": 2}, {"fsc": 2600000, "ssc": 264000, "level": 1},
            {"fsc": 2800000, "ssc": 264000, "level": 1}, {"fsc": 3000000, "ssc": 264000, "level": 1}, {"fsc": 3400000, "ssc": 264000, "level": 1},
            {"fsc": 200000, "ssc": 216000, "level": 1}, {"fsc": 400000, "ssc": 216000, "level": 2}, {"fsc": 600000, "ssc": 216000, "level": 3}, {"fsc": 800000, "ssc": 216000, "level": 3},
            {"fsc": 1000000, "ssc": 216000, "level": 4}, {"fsc": 1200000, "ssc": 216000, "level": 4}, {"fsc": 1400000, "ssc": 216000, "level": 3}, {"fsc": 1600000, "ssc": 216000, "level": 3},
            {"fsc": 1800000, "ssc": 216000, "level": 2}, {"fsc": 2000000, "ssc": 216000, "level": 2}, {"fsc": 2200000, "ssc": 216000, "level": 2}, {"fsc": 2400000, "ssc": 216000, "level": 2},
            {"fsc": 2600000, "ssc": 216000, "level": 2}, {"fsc": 2800000, "ssc": 216000, "level": 1}, {"fsc": 3000000, "ssc": 216000, "level": 1}, {"fsc": 3200000, "ssc": 216000, "level": 1},
            {"fsc": 200000, "ssc": 168000, "level": 1}, {"fsc": 400000, "ssc": 168000, "level": 3}, {"fsc": 600000, "ssc": 168000, "level": 4}, {"fsc": 800000, "ssc": 168000, "level": 4},
            {"fsc": 1000000, "ssc": 168000, "level": 5}, {"fsc": 1200000, "ssc": 168000, "level": 5}, {"fsc": 1400000, "ssc": 168000, "level": 4}, {"fsc": 1600000, "ssc": 168000, "level": 3},
            {"fsc": 1800000, "ssc": 168000, "level": 3}, {"fsc": 2000000, "ssc": 168000, "level": 2}, {"fsc": 2200000, "ssc": 168000, "level": 2}, {"fsc": 2400000, "ssc": 168000, "level": 2},
            {"fsc": 2600000, "ssc": 168000, "level": 1}, {"fsc": 2800000, "ssc": 168000, "level": 1}, {"fsc": 3000000, "ssc": 168000, "level": 1}, {"fsc": 3400000, "ssc": 168000, "level": 1},
            {"fsc": 200000, "ssc": 120000, "level": 2}, {"fsc": 400000, "ssc": 120000, "level": 3}, {"fsc": 600000, "ssc": 120000, "level": 4}, {"fsc": 800000, "ssc": 120000, "level": 5},
            {"fsc": 1000000, "ssc": 120000, "level": 5}, {"fsc": 1200000, "ssc": 120000, "level": 5}, {"fsc": 1400000, "ssc": 120000, "level": 4}, {"fsc": 1600000, "ssc": 120000, "level": 3},
            {"fsc": 1800000, "ssc": 120000, "level": 2}, {"fsc": 2000000, "ssc": 120000, "level": 2}, {"fsc": 2200000, "ssc": 120000, "level": 2}, {"fsc": 2400000, "ssc": 120000, "level": 1},
            {"fsc": 2600000, "ssc": 120000, "level": 1}, {"fsc": 3000000, "ssc": 120000, "level": 1},
            {"fsc": 200000, "ssc": 72000, "level": 2}, {"fsc": 400000, "ssc": 72000, "level": 3}, {"fsc": 600000, "ssc": 72000, "level": 4}, {"fsc": 800000, "ssc": 72000, "level": 4},
            {"fsc": 1000000, "ssc": 72000, "level": 5}, {"fsc": 1200000, "ssc": 72000, "level": 4}, {"fsc": 1400000, "ssc": 72000, "level": 3}, {"fsc": 1600000, "ssc": 72000, "level": 2},
            {"fsc": 1800000, "ssc": 72000, "level": 2}, {"fsc": 2000000, "ssc": 72000, "level": 2}, {"fsc": 2200000, "ssc": 72000, "level": 1}, {"fsc": 2600000, "ssc": 72000, "level": 1},
            {"fsc": 200000, "ssc": 24000, "level": 1}, {"fsc": 400000, "ssc": 24000, "level": 2}, {"fsc": 600000, "ssc": 24000, "level": 2}, {"fsc": 800000, "ssc": 24000, "level": 3},
            {"fsc": 1000000, "ssc": 24000, "level": 3}, {"fsc": 1200000, "ssc": 24000, "level": 2}, {"fsc": 1400000, "ssc": 24000, "level": 2}, {"fsc": 1600000, "ssc": 24000, "level": 1},
            {"fsc": 1800000, "ssc": 24000, "level": 1}
          ]},
          "mark": {"type": "point", "shape": "square", "filled": true, "size": 40, "opacity": 1, "strokeWidth": 0},
          "encoding": {
            "x": {"field": "fsc", "type": "quantitative", "scale": {"type": "linear", "domain": [99865, 2000000, 4000000, 7000000, 8360000], "range": [54, 113, 174.7, 237.3, 265.7], "nice": false, "zero": false},
              "axis": {"orient": "bottom", "offset": -26, "zindex": 1, "values": [99865, 2000000, 4000000, 7000000], "format": ",.0f", "labelFont": "Liberation Sans", "labelFontSize": 12, "labelFontWeight": "bold", "labelPadding": 3, "labelOverlap": false, "labelBound": false, "labelFlush": false, "tickSize": 6, "domainWidth": 1.5, "title": null}},
            "y": {"field": "ssc", "type": "quantitative", "scale": {"domain": [0, 1500000], "range": [238, 44], "nice": false, "zero": false},
              "axis": {"orient": "left", "offset": -54, "zindex": 1, "values": [0, 500000, 1000000, 1500000], "format": ",.0f", "labelAngle": -90, "labelAlign": {"condition": {"test": "datum.value == 1500000", "value": "right"}, "value": "center"}, "labelBaseline": "bottom", "labelFont": "Liberation Sans", "labelFontSize": 9.5, "labelPadding": 6.5, "labelOverlap": false, "labelBound": false, "labelFlush": false, "tickSize": 6, "domainWidth": 1.5, "title": "SSC-A", "titleFont": "Liberation Sans", "titleFontSize": 13, "titleFontWeight": "bold", "titlePadding": 5}},
            "color": {"field": "level", "type": "ordinal", "scale": {"domain": [1, 2, 3, 4, 5], "range": ["#cdcdcd", "#a0a0a0", "#6c6c6c", "#363636", "#0e0e0e"]}, "legend": null}
          }
        },
        {
          "data": {"values": [
            {"fsc": 3330000, "ssc": 974000}, {"fsc": 3650000, "ssc": 918000}, {"fsc": 7640000, "ssc": 608000}, {"fsc": 5150000, "ssc": 549000},
            {"fsc": 4290000, "ssc": 515000}, {"fsc": 3050000, "ssc": 515000}, {"fsc": 3470000, "ssc": 472000}, {"fsc": 1870000, "ssc": 580000},
            {"fsc": 1120000, "ssc": 497000}, {"fsc": 4840000, "ssc": 433000}, {"fsc": 5480000, "ssc": 368000}, {"fsc": 4170000, "ssc": 206000},
            {"fsc": 3830000, "ssc": 72000}, {"fsc": 3990000, "ssc": 150000}, {"fsc": 3880000, "ssc": 278000}, {"fsc": 3610000, "ssc": 343000}
          ]},
          "mark": {"type": "point", "shape": "circle", "filled": true, "size": 5, "color": "#8a8a8a", "opacity": 1},
          "encoding": {
            "x": {"field": "fsc", "type": "quantitative", "scale": {"type": "linear", "domain": [99865, 2000000, 4000000, 7000000, 8360000], "range": [54, 113, 174.7, 237.3, 265.7], "nice": false, "zero": false},
              "axis": {"orient": "top", "domain": false, "ticks": false, "labels": false, "title": "P", "titleX": 237, "titleY": 23, "titleAlign": "left", "titleBaseline": "alphabetic", "titleAngle": 0, "titleFont": "Liberation Sans", "titleFontSize": 19, "titleFontWeight": "bold"}},
            "y": {"field": "ssc", "type": "quantitative", "scale": {"domain": [0, 1500000], "range": [238, 44], "nice": false, "zero": false}, "axis": null}
          }
        }
      ]
    },
    {
      "width": 326, "height": 330,
      "view": {"fill": "#e6edef", "stroke": "#3b3b3b", "strokeWidth": 2, "strokeDash": [326, 656, 330, 0]},
      "resolve": {"axis": {"x": "independent", "y": "independent"}},
      "layer": [
        {
          "data": {"values": [{}]},
          "mark": {"type": "rect", "fill": "white", "stroke": "#2a2af5", "strokeWidth": 1.5},
          "encoding": {
            "x": {"datum": 1, "type": "quantitative", "scale": {"type": "log", "domain": [1, 15848932], "range": [54, 266], "nice": false},
              "axis": {"orient": "top", "domain": false, "ticks": false, "labels": false, "title": ["E04 14h_30C_TDH", "Gate: [No Gating]"], "titleX": 54, "titleY": 9, "titleAlign": "left", "titleAnchor": "start", "titleBaseline": "top", "titleAngle": 0, "titleFont": "Liberation Sans", "titleFontSize": 15, "titleFontWeight": "normal", "titleLineHeight": 17.5}},
            "x2": {"datum": 15848932},
            "y": {"datum": 0, "type": "quantitative", "scale": {"domain": [0, 1600], "range": [238, 44], "nice": false, "zero": false}, "axis": null},
            "y2": {"datum": 1600}
          }
        },
        {
          "data": {"values": [
            {"fitc": 112.2, "count": 0}, {"fitc": 125.9, "count": 4}, {"fitc": 141.3, "count": 8}, {"fitc": 158.5, "count": 14},
            {"fitc": 177.8, "count": 25}, {"fitc": 199.5, "count": 45}, {"fitc": 223.9, "count": 80}, {"fitc": 251.2, "count": 140},
            {"fitc": 281.8, "count": 230}, {"fitc": 316.2, "count": 350}, {"fitc": 354.8, "count": 480}, {"fitc": 398.1, "count": 620},
            {"fitc": 446.7, "count": 760}, {"fitc": 501.2, "count": 800}, {"fitc": 562.3, "count": 820}, {"fitc": 631, "count": 700},
            {"fitc": 707.9, "count": 560}, {"fitc": 794.3, "count": 470}, {"fitc": 891.3, "count": 420}, {"fitc": 1000, "count": 380},
            {"fitc": 1122, "count": 350}, {"fitc": 1259, "count": 335}, {"fitc": 1413, "count": 300}, {"fitc": 1585, "count": 250},
            {"fitc": 1778, "count": 225}, {"fitc": 1995, "count": 170}, {"fitc": 2239, "count": 110}, {"fitc": 2512, "count": 80},
            {"fitc": 2818, "count": 60}, {"fitc": 3162, "count": 55}, {"fitc": 3548, "count": 30}, {"fitc": 3981, "count": 22},
            {"fitc": 4467, "count": 16}, {"fitc": 5012, "count": 14}, {"fitc": 5623, "count": 18}, {"fitc": 6310, "count": 20},
            {"fitc": 7079, "count": 20}, {"fitc": 7943, "count": 18}, {"fitc": 8913, "count": 14}, {"fitc": 10000, "count": 6},
            {"fitc": 11220, "count": 0}
          ]},
          "mark": {"type": "area", "interpolate": "step-after", "color": "#000000"},
          "encoding": {
            "x": {"field": "fitc", "type": "quantitative", "scale": {"type": "log", "domain": [1, 15848932], "range": [54, 266], "nice": false},
              "axis": {"orient": "bottom", "offset": -92, "zindex": 1, "values": [1,2,3,4,5,6,7,8,9,10,20,30,40,50,60,70,80,90,100,200,300,400,500,600,700,800,900,1000,2000,3000,4000,5000,6000,7000,8000,9000,10000,20000,30000,40000,50000,60000,70000,80000,90000,100000,200000,300000,400000,500000,600000,700000,800000,900000,1000000,2000000,3000000,4000000,5000000,6000000,7000000,8000000,9000000,10000000,15848932],
                "labelExpr": "datum.value > 15000000 ? '₁₀7.2' : datum.value > 5000000 ? '' : abs(log(datum.value) / LN10 - round(log(datum.value) / LN10)) < 0.001 ? '₁₀' + round(log(datum.value) / LN10) : ''",
                "labelFont": "DejaVu Sans", "labelFontSize": 12.5, "labelFontWeight": "bold", "labelPadding": 1, "labelOverlap": false, "labelBound": false, "labelFlush": false, "tickSize": 6, "domainWidth": 1.5, "title": "FITC-A", "titleFont": "Liberation Sans", "titleFontSize": 13, "titleFontWeight": "bold", "titlePadding": 5}},
            "y": {"field": "count", "type": "quantitative", "scale": {"domain": [0, 1600], "range": [238, 44], "nice": false, "zero": false},
              "axis": {"orient": "left", "offset": -54, "zindex": 1, "values": [0, 500, 1000, 1600], "format": ",.0f", "labelAngle": -90, "labelAlign": "center", "labelBaseline": "bottom", "labelFont": "Liberation Sans", "labelFontSize": 12, "labelPadding": 6, "labelOverlap": false, "labelBound": false, "labelFlush": false, "tickSize": 7, "domainWidth": 1.5, "title": "Count", "titleFont": "Liberation Sans", "titleFontSize": 13, "titleFontWeight": "bold", "titlePadding": 3}}
          }
        }
      ]
    },
    {
      "width": 317, "height": 330,
      "view": {"fill": "#e6edef", "stroke": "#3b3b3b", "strokeWidth": 2, "strokeDash": [317, 977]},
      "resolve": {"axis": {"x": "independent", "y": "independent"}},
      "layer": [
        {
          "data": {"values": [{}]},
          "mark": {"type": "rect", "fill": "white", "stroke": "#2a2af5", "strokeWidth": 1.5},
          "encoding": {
            "x": {"datum": 99865, "type": "quantitative", "scale": {"type": "linear", "domain": [99865, 2000000, 4000000, 7000000, 8360000], "range": [54, 113, 174.7, 237.3, 265.7], "nice": false, "zero": false},
              "axis": {"orient": "top", "domain": false, "ticks": false, "labels": false, "title": ["E04 14h_30C_TDH", "Gate: [No Gating]"], "titleX": 54, "titleY": 9, "titleAlign": "left", "titleAnchor": "start", "titleBaseline": "top", "titleAngle": 0, "titleFont": "Liberation Sans", "titleFontSize": 15, "titleFontWeight": "normal", "titleLineHeight": 17.5}},
            "x2": {"datum": 8360000},
            "y": {"datum": 0, "type": "quantitative", "scale": {"domain": [0, 1500000], "range": [238, 44], "nice": false, "zero": false},
              "axis": {"orient": "right", "offset": 0, "domain": false, "ticks": false, "labels": false, "title": "KmTDH3", "titleX": -65, "titleY": 28.5, "titleAlign": "left", "titleBaseline": "alphabetic", "titleAngle": 0, "titleFont": "Liberation Sans", "titleFontSize": 15, "titleFontWeight": "bold", "titleFontStyle": "italic"}},
            "y2": {"datum": 1500000}
          }
        },
        {
          "data": {"values": [
            {"fsc": 1800000, "ssc": 456000, "level": 1},
            {"fsc": 1400000, "ssc": 408000, "level": 1}, {"fsc": 2200000, "ssc": 408000, "level": 1}, {"fsc": 2600000, "ssc": 408000, "level": 1},
            {"fsc": 800000, "ssc": 360000, "level": 1}, {"fsc": 1200000, "ssc": 360000, "level": 1}, {"fsc": 1800000, "ssc": 360000, "level": 1}, {"fsc": 2000000, "ssc": 360000, "level": 1},
            {"fsc": 2200000, "ssc": 360000, "level": 1}, {"fsc": 2400000, "ssc": 360000, "level": 1},
            {"fsc": 400000, "ssc": 312000, "level": 1}, {"fsc": 600000, "ssc": 312000, "level": 1}, {"fsc": 800000, "ssc": 312000, "level": 1}, {"fsc": 1000000, "ssc": 312000, "level": 1},
            {"fsc": 1200000, "ssc": 312000, "level": 2}, {"fsc": 1400000, "ssc": 312000, "level": 1}, {"fsc": 1600000, "ssc": 312000, "level": 2}, {"fsc": 1800000, "ssc": 312000, "level": 2},
            {"fsc": 2000000, "ssc": 312000, "level": 1}, {"fsc": 2200000, "ssc": 312000, "level": 1}, {"fsc": 2400000, "ssc": 312000, "level": 1}, {"fsc": 2600000, "ssc": 312000, "level": 1},
            {"fsc": 400000, "ssc": 264000, "level": 1}, {"fsc": 600000, "ssc": 264000, "level": 2}, {"fsc": 800000, "ssc": 264000, "level": 2}, {"fsc": 1000000, "ssc": 264000, "level": 2},
            {"fsc": 1200000, "ssc": 264000, "level": 2}, {"fsc": 1400000, "ssc": 264000, "level": 2}, {"fsc": 1600000, "ssc": 264000, "level": 2}, {"fsc": 1800000, "ssc": 264000, "level": 2},
            {"fsc": 2000000, "ssc": 264000, "level": 2}, {"fsc": 2200000, "ssc": 264000, "level": 2}, {"fsc": 2400000, "ssc": 264000, "level": 1}, {"fsc": 2600000, "ssc": 264000, "level": 1},
            {"fsc": 2800000, "ssc": 264000, "level": 1},
            {"fsc": 200000, "ssc": 216000, "level": 1}, {"fsc": 400000, "ssc": 216000, "level": 2}, {"fsc": 600000, "ssc": 216000, "level": 3}, {"fsc": 800000, "ssc": 216000, "level": 3},
            {"fsc": 1000000, "ssc": 216000, "level": 3}, {"fsc": 1200000, "ssc": 216000, "level": 3}, {"fsc": 1400000, "ssc": 216000, "level": 3}, {"fsc": 1600000, "ssc": 216000, "level": 2},
            {"fsc": 1800000, "ssc": 216000, "level": 2}, {"fsc": 2000000, "ssc": 216000, "level": 2}, {"fsc": 2200000, "ssc": 216000, "level": 2}, {"fsc": 2400000, "ssc": 216000, "level": 2},
            {"fsc": 2600000, "ssc": 216000, "level": 1}, {"fsc": 2800000, "ssc": 216000, "level": 1}, {"fsc": 3000000, "ssc": 216000, "level": 1},
            {"fsc": 200000, "ssc": 168000, "level": 2}, {"fsc": 400000, "ssc": 168000, "level": 3}, {"fsc": 600000, "ssc": 168000, "level": 4}, {"fsc": 800000, "ssc": 168000, "level": 5},
            {"fsc": 1000000, "ssc": 168000, "level": 4}, {"fsc": 1200000, "ssc": 168000, "level": 4}, {"fsc": 1400000, "ssc": 168000, "level": 3}, {"fsc": 1600000, "ssc": 168000, "level": 3},
            {"fsc": 1800000, "ssc": 168000, "level": 2}, {"fsc": 2000000, "ssc": 168000, "level": 2}, {"fsc": 2200000, "ssc": 168000, "level": 2}, {"fsc": 2400000, "ssc": 168000, "level": 2},
            {"fsc": 2600000, "ssc": 168000, "level": 2}, {"fsc": 2800000, "ssc": 168000, "level": 1}, {"fsc": 3000000, "ssc": 168000, "level": 1},
            {"fsc": 200000, "ssc": 120000, "level": 2}, {"fsc": 400000, "ssc": 120000, "level": 4}, {"fsc": 600000, "ssc": 120000, "level": 5}, {"fsc": 800000, "ssc": 120000, "level": 5},
            {"fsc": 1000000, "ssc": 120000, "level": 5}, {"fsc": 1200000, "ssc": 120000, "level": 4}, {"fsc": 1400000, "ssc": 120000, "level": 3}, {"fsc": 1600000, "ssc": 120000, "level": 3},
            {"fsc": 1800000, "ssc": 120000, "level": 2}, {"fsc": 2000000, "ssc": 120000, "level": 2}, {"fsc": 2200000, "ssc": 120000, "level": 2}, {"fsc": 2400000, "ssc": 120000, "level": 1},
            {"fsc": 2600000, "ssc": 120000, "level": 1}, {"fsc": 2800000, "ssc": 120000, "level": 1},
            {"fsc": 200000, "ssc": 72000, "level": 2}, {"fsc": 400000, "ssc": 72000, "level": 3}, {"fsc": 600000, "ssc": 72000, "level": 5}, {"fsc": 800000, "ssc": 72000, "level": 5},
            {"fsc": 1000000, "ssc": 72000, "level": 4}, {"fsc": 1200000, "ssc": 72000, "level": 3}, {"fsc": 1400000, "ssc": 72000, "level": 3}, {"fsc": 1600000, "ssc": 72000, "level": 2},
            {"fsc": 1800000, "ssc": 72000, "level": 2}, {"fsc": 2000000, "ssc": 72000, "level": 1}, {"fsc": 2200000, "ssc": 72000, "level": 1},
            {"fsc": 200000, "ssc": 24000, "level": 1}, {"fsc": 400000, "ssc": 24000, "level": 2}, {"fsc": 600000, "ssc": 24000, "level": 3}, {"fsc": 800000, "ssc": 24000, "level": 3},
            {"fsc": 1000000, "ssc": 24000, "level": 2}, {"fsc": 1200000, "ssc": 24000, "level": 2}, {"fsc": 1400000, "ssc": 24000, "level": 1}, {"fsc": 1600000, "ssc": 24000, "level": 1}
          ]},
          "mark": {"type": "point", "shape": "square", "filled": true, "size": 40, "opacity": 1, "strokeWidth": 0},
          "encoding": {
            "x": {"field": "fsc", "type": "quantitative", "scale": {"type": "linear", "domain": [99865, 2000000, 4000000, 7000000, 8360000], "range": [54, 113, 174.7, 237.3, 265.7], "nice": false, "zero": false},
              "axis": {"orient": "bottom", "offset": -92, "zindex": 1, "values": [99865, 2000000, 4000000, 7000000], "format": ",.0f", "labelFont": "Liberation Sans", "labelFontSize": 12, "labelFontWeight": "bold", "labelPadding": 3, "labelOverlap": false, "labelBound": false, "labelFlush": false, "tickSize": 6, "domainWidth": 1.5, "title": "FSC-A", "titleFont": "Liberation Sans", "titleFontSize": 13, "titleFontWeight": "bold", "titlePadding": 5}},
            "y": {"field": "ssc", "type": "quantitative", "scale": {"domain": [0, 1500000], "range": [238, 44], "nice": false, "zero": false},
              "axis": {"orient": "left", "offset": -54, "zindex": 1, "values": [0, 500000, 1000000, 1500000], "format": ",.0f", "labelAngle": -90, "labelAlign": {"condition": {"test": "datum.value == 1500000", "value": "right"}, "value": "center"}, "labelBaseline": "bottom", "labelFont": "Liberation Sans", "labelFontSize": 9.5, "labelPadding": 6.5, "labelOverlap": false, "labelBound": false, "labelFlush": false, "tickSize": 6, "domainWidth": 1.5, "title": "SSC-A", "titleFont": "Liberation Sans", "titleFontSize": 13, "titleFontWeight": "bold", "titlePadding": 5}},
            "color": {"field": "level", "type": "ordinal", "scale": {"domain": [1, 2, 3, 4, 5], "range": ["#cdcdcd", "#a0a0a0", "#6c6c6c", "#363636", "#0e0e0e"]}, "legend": null}
          }
        },
        {
          "data": {"values": [
            {"fsc": 4770000, "ssc": 1120000}, {"fsc": 3920000, "ssc": 799000}, {"fsc": 6750000, "ssc": 825000}, {"fsc": 6970000, "ssc": 825000},
            {"fsc": 190000, "ssc": 799000}, {"fsc": 280000, "ssc": 613000}, {"fsc": 3110000, "ssc": 575000}, {"fsc": 1870000, "ssc": 534000},
            {"fsc": 2800000, "ssc": 459000}, {"fsc": 3370000, "ssc": 464000}, {"fsc": 5150000, "ssc": 451000}, {"fsc": 4810000, "ssc": 381000},
            {"fsc": 4200000, "ssc": 412000}, {"fsc": 3880000, "ssc": 394000}, {"fsc": 4440000, "ssc": 330000}, {"fsc": 4970000, "ssc": 141000},
            {"fsc": 3880000, "ssc": 309000}, {"fsc": 3500000, "ssc": 271000}, {"fsc": 3700000, "ssc": 180000}
          ]},
          "mark": {"type": "point", "shape": "circle", "filled": true, "size": 5, "color": "#8a8a8a", "opacity": 1},
          "encoding": {
            "x": {"field": "fsc", "type": "quantitative", "scale": {"type": "linear", "domain": [99865, 2000000, 4000000, 7000000, 8360000], "range": [54, 113, 174.7, 237.3, 265.7], "nice": false, "zero": false},
              "axis": {"orient": "top", "domain": false, "ticks": false, "labels": false, "title": "P", "titleX": 239, "titleY": 23, "titleAlign": "left", "titleBaseline": "alphabetic", "titleAngle": 0, "titleFont": "Liberation Sans", "titleFontSize": 19, "titleFontWeight": "bold"}},
            "y": {"field": "ssc", "type": "quantitative", "scale": {"domain": [0, 1500000], "range": [238, 44], "nice": false, "zero": false}, "axis": null}
          }
        }
      ]
    }
  ]
}
